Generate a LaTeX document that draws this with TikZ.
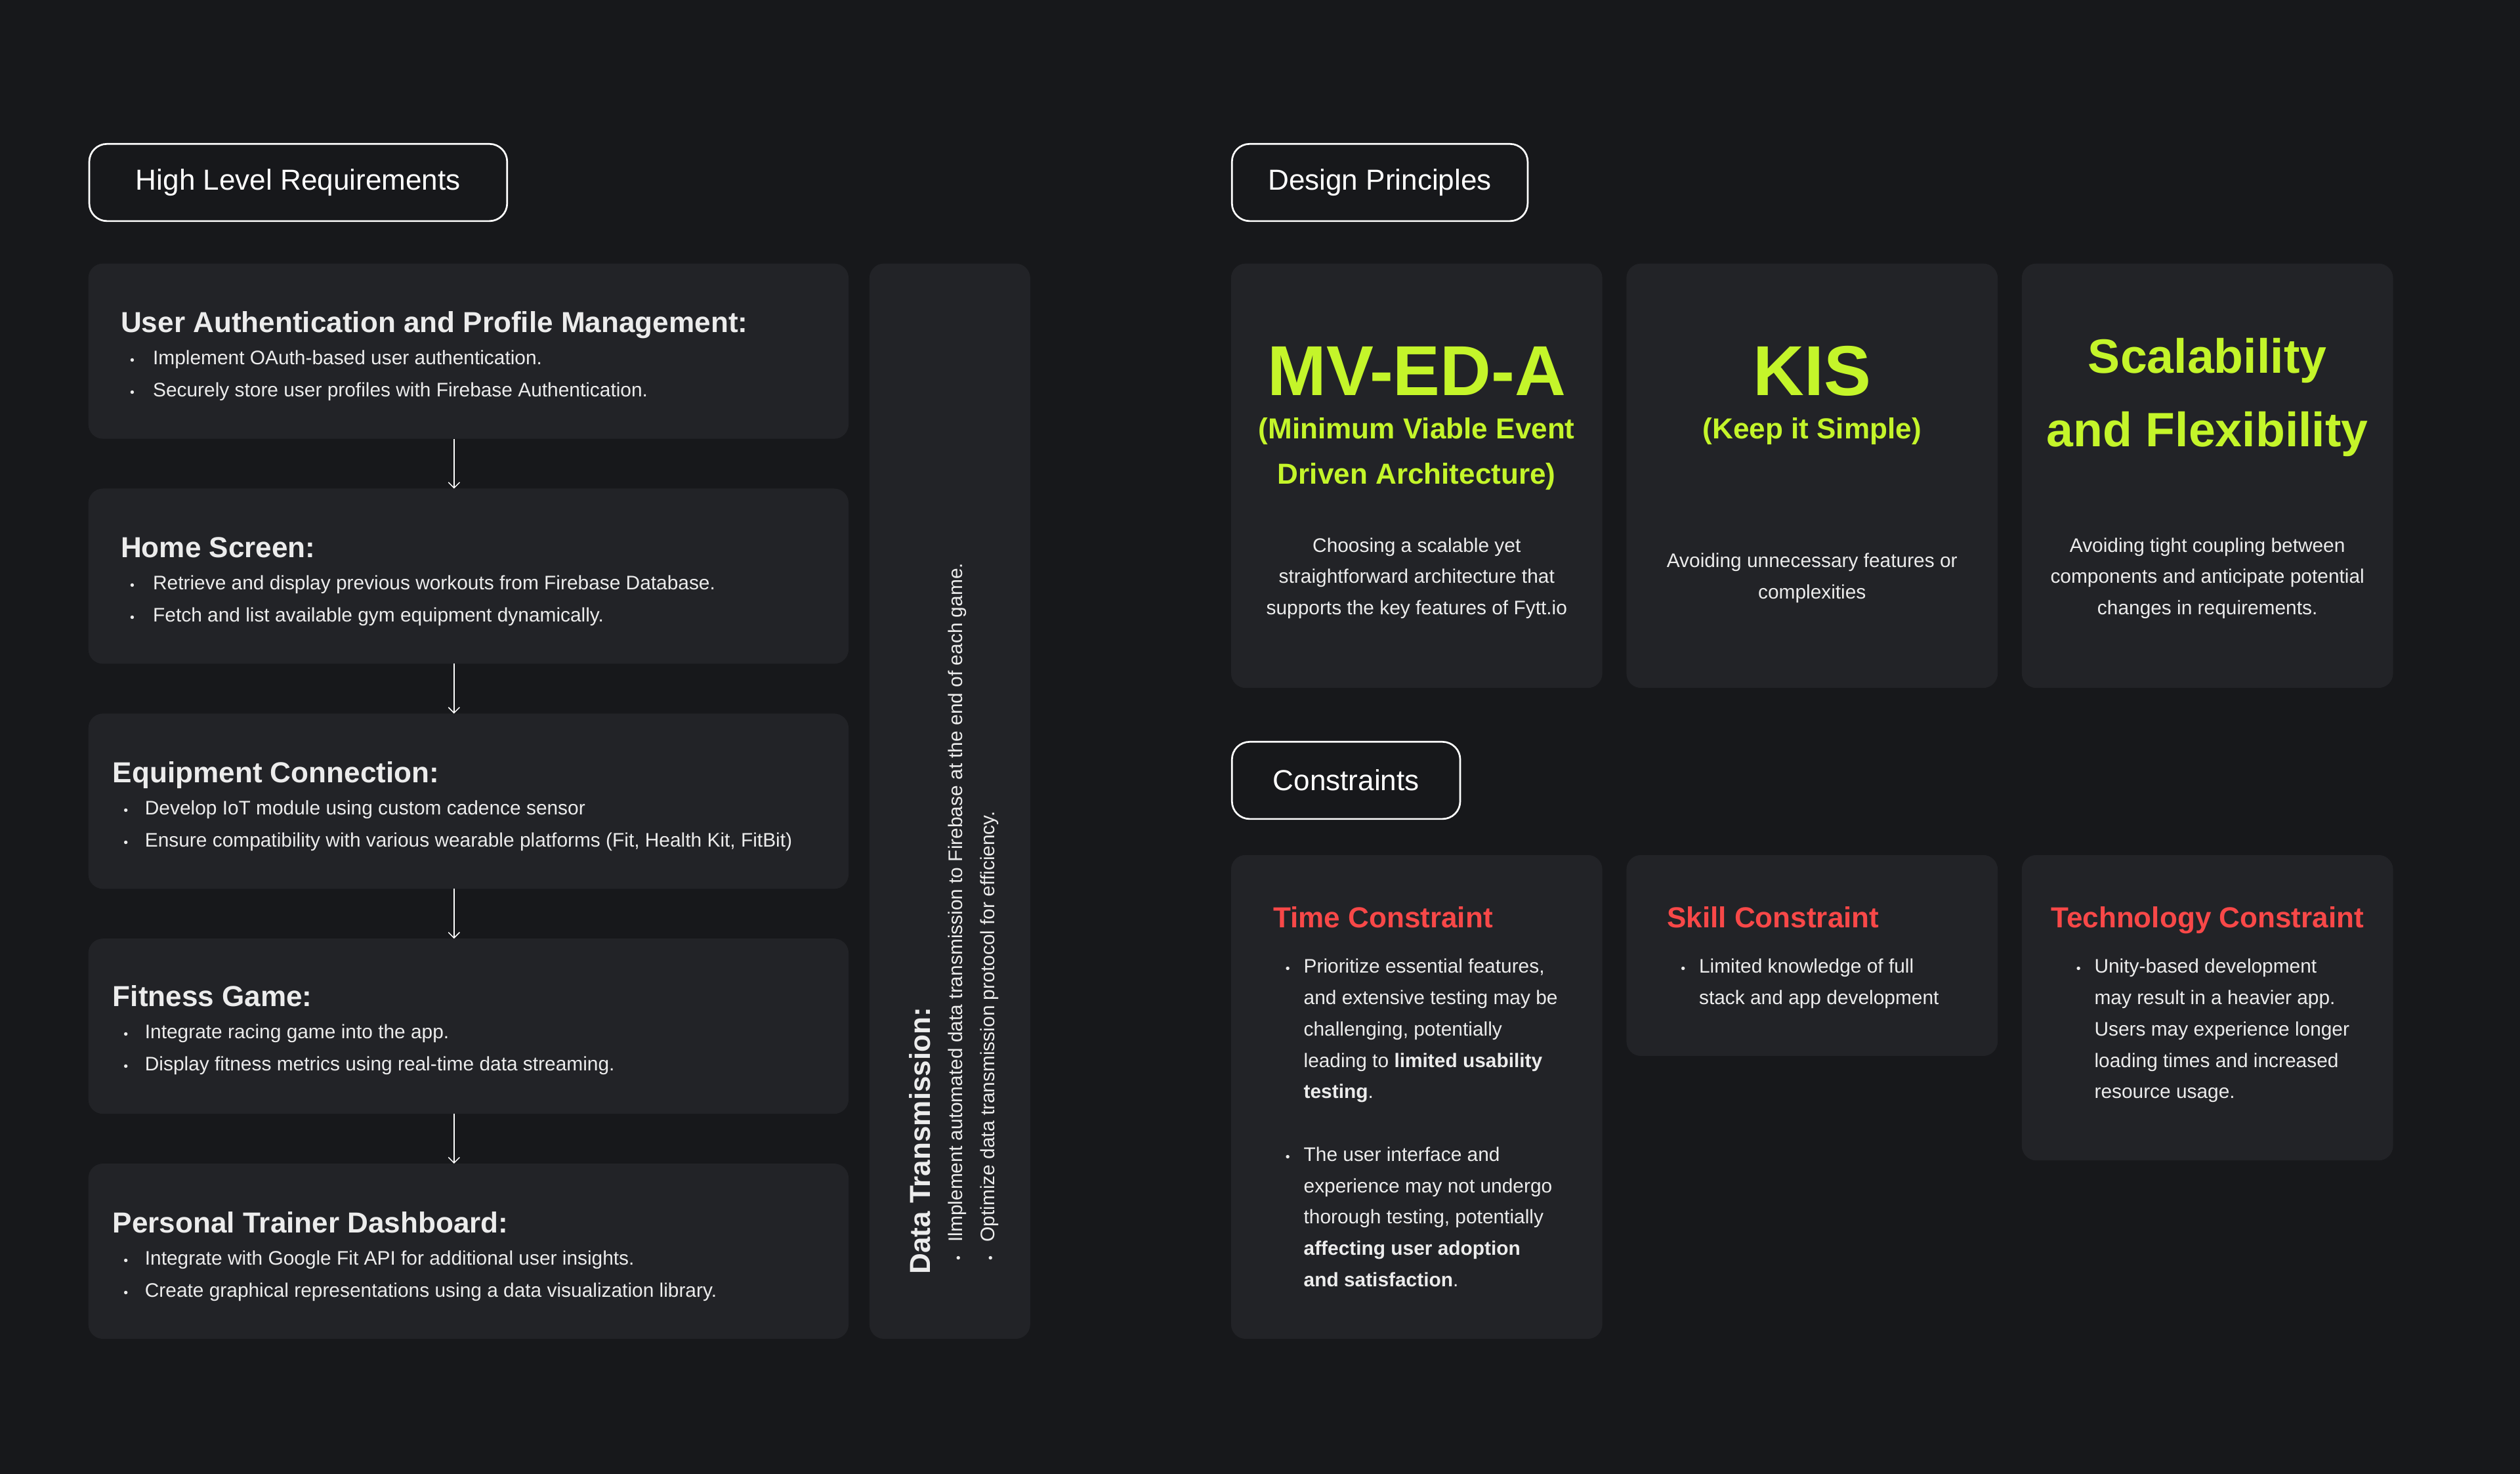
\documentclass[tikz,border=0pt]{standalone}
\usepackage{fontspec}
\setmainfont{Liberation Sans}
\usetikzlibrary{arrows.meta, positioning, calc}
\definecolor{fytbg}{HTML}{17181B}
\definecolor{fytcard}{HTML}{222327}
\definecolor{fytlime}{HTML}{C4F52A}
\definecolor{fytred}{HTML}{F84848}
\definecolor{fyttext}{HTML}{ECECEC}
\newcommand{\bul}[1][8.5pt]{\llap{\fontsize{8}{8}\selectfont\textbullet\hspace*{#1}}}
\newcommand{\ttl}{\fontsize{18}{20}\selectfont\bfseries}

\begin{document}
\begin{tikzpicture}[x=1pt, y=-1pt,
  node distance=31pt,
  hdr/.style={draw=white, line width=1.1pt, rounded corners=11pt, minimum height=48pt,
              anchor=north west, text=white, font=\fontsize{18}{20}\selectfont},
  card/.style={fill=fytcard, rounded corners=9pt, inner sep=0pt, outer sep=0pt},
  req/.style={card, minimum width=473pt, minimum height=109pt},
  prin/.style={card, minimum width=231pt, minimum height=264pt},
  cons/.style={card, minimum width=231pt},
  % multi-line texts sit on the baseline of their last line
  txt/.style={anchor=base west, align=left, text=fyttext, inner sep=0pt,
              font=\fontsize{12.2}{20}\selectfont},
  ctxt/.style={anchor=base, align=center, text=fyttext, inner sep=0pt,
               font=\fontsize{12.2}{19.5}\selectfont},
  big/.style={anchor=base, align=center, text=fytlime, inner sep=0pt,
              font=\fontsize{44}{46}\selectfont\bfseries},
  sub/.style={anchor=base, align=center, text=fytlime, inner sep=0pt,
              font=\fontsize{18}{28}\selectfont\bfseries},
  ctitle/.style={anchor=base west, text=fytred, inner sep=0pt,
                 font=\fontsize{18}{20}\selectfont\bfseries},
  arr/.style={-{Straight Barb[length=3.5pt, width=7pt]}, draw=white, line width=0.6pt}
]
\fill[fytbg] (0,0) rectangle (1568,917);
\useasboundingbox (0,0) rectangle (1568,917);

% headers
\node[hdr, minimum width=260pt] (hlr) at (55,89) {High Level Requirements};
\node[hdr, minimum width=184pt] (dph) at (766,89) {Design Principles};
\node[hdr, minimum width=142pt] (conh) at (766,461) {Constraints};

% requirements
\node[req, anchor=north west] (auth) at (55,164) {};
\node[req, below=of auth] (home) {};
\node[req, below=of home] (equip) {};
\node[req, below=of equip] (game) {};
\node[req, below=of game] (coach) {};
\node[card, minimum width=100pt, minimum height=669pt, anchor=north west] (dtx) at (541,164) {};

\node[txt] (authtxt) at ($(auth.north west)+(20,83)$)
  {{\ttl User Authentication and Profile Management:}\\
   \hspace*{20pt}\bul[11.5pt]Implement OAuth-based user authentication.\\
   \hspace*{20pt}\bul[11.5pt]Securely store user profiles with Firebase Authentication.};
\node[txt] (hometxt) at ($(home.north west)+(20,83)$)
  {{\ttl Home Screen:}\\
   \hspace*{20pt}\bul[11.5pt]Retrieve and display previous workouts from Firebase Database.\\
   \hspace*{20pt}\bul[11.5pt]Fetch and list available gym equipment dynamically.};
\node[txt] (equiptxt) at ($(equip.north west)+(15,83)$)
  {{\ttl Equipment Connection:}\\
   \hspace*{20pt}\bul[10.5pt]Develop IoT module using custom cadence sensor\\
   \hspace*{20pt}\bul[10.5pt]Ensure compatibility with various wearable platforms (Fit, Health Kit, FitBit)};
\node[txt] (gametxt) at ($(game.north west)+(15,82)$)
  {{\ttl Fitness Game:}\\
   \hspace*{20pt}\bul[10.5pt]Integrate racing game into the app.\\
   \hspace*{20pt}\bul[10.5pt]Display fitness metrics using real-time data streaming.};
\node[txt] (coachtxt) at ($(coach.north west)+(15,83)$)
  {{\ttl Personal Trainer Dashboard:}\\
   \hspace*{20pt}\bul[10.5pt]Integrate with Google Fit API for additional user insights.\\
   \hspace*{20pt}\bul[10.5pt]Create graphical representations using a data visualization library.};
\node[txt, rotate=90] (dtxtxt) at ($(dtx.south west)+(78,-40)$)
  {{\ttl Data Transmission:}\\
   \hspace*{20pt}\bul Ilmplement automated data transmission to Firebase at the end of each game.\\
   \hspace*{20pt}\bul Optimize data transmission protocol for efficiency.};

\foreach \a/\b in {auth/home, home/equip, equip/game, game/coach}
  \draw[arr] ([xshift=-9pt]\a.south) -- ([xshift=-9pt]\b.north);

% design principles
\node[prin, anchor=north west] (mved) at (766,164) {};
\node[prin, right=15pt of mved] (kis) {};
\node[prin, right=15pt of kis] (scal) {};

\node[big] (mvedttl) at ($(mved.north)+(0,82)$) {MV-ED-A};
\node[sub] (mvedsub) at ($(mved.north)+(0,137)$) {(Minimum Viable Event\\Driven Architecture)};
\node[ctxt] (mvedtxt) at ($(mved.north)+(0,218.5)$)
  {Choosing a scalable yet\\straightforward architecture that\\supports the key features of Fytt.io};

\node[big] (kisttl) at ($(kis.north)+(0,82)$) {KIS};
\node[sub] (kissub) at ($(kis.north)+(0,109)$) {(Keep it Simple)};
\node[ctxt] (kistxt) at ($(kis.north)+(0,208.5)$)
  {Avoiding unnecessary features or\\complexities};

\node[big, font=\fontsize{30}{46}\selectfont\bfseries] (scalttl) at ($(scal.north)+(0,114)$)
  {Scalability\\and Flexibility};
\node[ctxt] (scaltxt) at ($(scal.north)+(0,218.5)$)
  {Avoiding tight coupling between\\components and anticipate potential\\changes in requirements.};

% constraints
\node[cons, minimum height=301pt, anchor=north west] (time) at (766,532) {};
\node[cons, minimum height=125pt, right=15pt of time.north east, anchor=north west] (skill) {};
\node[cons, minimum height=190pt, right=15pt of skill.north east, anchor=north west] (tech) {};

\node[ctitle] (timettl) at ($(time.north west)+(26,45)$) {Time Constraint};
\node[txt, font=\fontsize{12.2}{19.5}\selectfont] (timetxt) at ($(time.north west)+(45,268.5)$)
  {\bul Prioritize essential features,\\
   and extensive testing may be\\
   challenging, potentially\\
   leading to \textbf{limited usability}\\
   \textbf{testing}.\\[19.5pt]
   \bul The user interface and\\
   experience may not undergo\\
   thorough testing, potentially\\
   \textbf{affecting user adoption}\\
   \textbf{and satisfaction}.};

\node[ctitle] (skillttl) at ($(skill.north west)+(25,45)$) {Skill Constraint};
\node[txt, font=\fontsize{12.2}{19.5}\selectfont] (skilltxt) at ($(skill.north west)+(45,93)$)
  {\bul Limited knowledge of full\\stack and app development};

\node[ctitle] (techttl) at ($(tech.north west)+(18,45)$) {Technology Constraint};
\node[txt, font=\fontsize{12.2}{19.5}\selectfont] (techtxt) at ($(tech.north west)+(45,151.5)$)
  {\bul Unity-based development\\
   may result in a heavier app.\\
   Users may experience longer\\
   loading times and increased\\
   resource usage.};
\end{tikzpicture}
\end{document}
